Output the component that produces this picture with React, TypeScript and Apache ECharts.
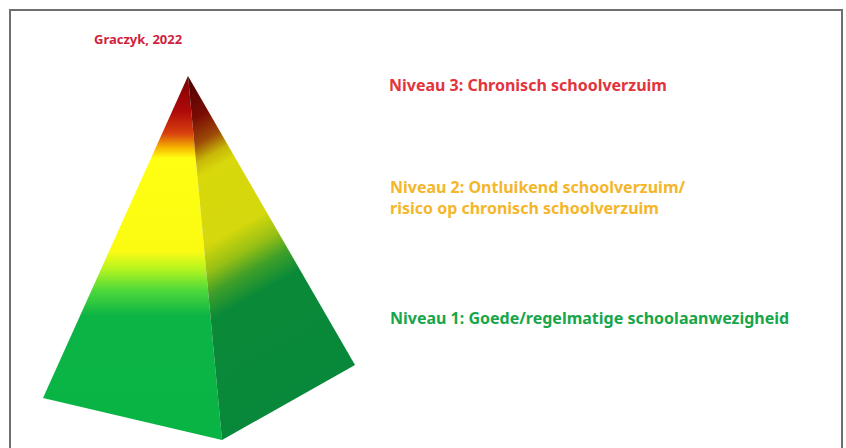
import React, { useEffect, useRef } from "react";
import * as echarts from "echarts";

// Pyramid geometry (diagram vertices in picture units)
const apex = [188, 76];
const baseLeft = [43, 398];
const baseFront = [222, 440];
const baseRight = [355, 365];

// Colour bands of the left (lit) face, from apex (0) to base (1)
const leftStops = [0, 0.1, 0.16, 0.2, 0.23, 0.49, 0.54, 0.6, 0.67, 1];
const leftColors = ["#7a0000", "#b00a0a", "#d8400e", "#f4b400", "#ffff12", "#fbfb12", "#b4f420", "#4cd83a", "#0cb446", "#08b444"];

// Colour bands of the right (shaded) face
const rightStops = [0, 0.12, 0.19, 0.24, 0.28, 0.47, 0.54, 0.6, 0.67, 1];
const rightColors = ["#4a0000", "#7a0c04", "#9c4a08", "#c8b808", "#d8d80c", "#d4d80c", "#98c014", "#40a028", "#0a8a38", "#07883a"];

const citation = "Graczyk, 2022";
const levelLabels = [
  "Niveau 3: Chronisch schoolverzuim",
  "Niveau 2: Ontluikend schoolverzuim/\nrisico op chronisch schoolverzuim",
  "Niveau 1: Goede/regelmatige schoolaanwezigheid",
];
const levelColors = ["#e2343c", "#f4b62a", "#17a64a"];

export default function App() {
  const ref = useRef<HTMLDivElement>(null);
  useEffect(() => {
    if (!ref.current) return;
    const chart = echarts.init(ref.current, undefined, { renderer: "svg" });
    const faces = [
      { name: "left", pts: [apex, baseLeft, baseFront] },
      { name: "right", pts: [apex, baseFront, baseRight] },
    ];
    const mkStops = (s: number[], c: string[]) => s.map((o, i) => ({ offset: o, color: c[i] }));
    chart.setOption({
      animation: false,
      backgroundColor: "#ffffff",
      grid: { left: 0, right: 0, top: 0, bottom: 0 },
      xAxis: { type: "value", min: 0, max: 846, show: false },
      yAxis: { type: "value", min: 0, max: 448, inverse: true, show: false },
      series: [
        {
          type: "custom",
          coordinateSystem: "cartesian2d",
          data: faces.map((f, i) => [i]),
          renderItem: (params: any, api: any) => {
            const f = faces[params.dataIndex];
            const pts = f.pts.map((p) => api.coord(p));
            const a = api.coord(apex);
            let grad;
            if (f.name === "left") {
              const b = api.coord([apex[0], baseFront[1] - 6]);
              grad = new echarts.graphic.LinearGradient(a[0], a[1], b[0], b[1], mkStops(leftStops, leftColors), true);
            } else {
              // perpendicular to the right base edge
              const bf = api.coord(baseFront);
              const br = api.coord(baseRight);
              const ex = br[0] - bf[0];
              const ey = br[1] - bf[1];
              let nx = -ey, ny = ex;
              if (ny < 0) { nx = -nx; ny = -ny; }
              const len = Math.hypot(nx, ny);
              nx /= len; ny /= len;
              const d = (bf[0] - a[0]) * nx + (bf[1] - a[1]) * ny;
              grad = new echarts.graphic.LinearGradient(a[0], a[1], a[0] + nx * d, a[1] + ny * d, mkStops(rightStops, rightColors), true);
            }
            return {
              type: "polygon",
              shape: { points: pts },
              style: { fill: grad, stroke: null },
            };
          },
        },
      ],
      graphic: [
        {
          type: "rect",
          shape: { x: 10, y: 10, width: 832, height: 460 },
          style: { fill: "none", stroke: "#6e6e6e", lineWidth: 2 },
          silent: true,
        },
        {
          type: "text",
          x: 94,
          y: 39,
          style: {
            text: citation,
            fill: "#d01e3e",
            font: "bold 13px 'Noto Sans'",
            verticalAlign: "middle",
          },
        },
        {
          type: "text",
          x: 389,
          y: 85,
          style: { text: levelLabels[0], fill: levelColors[0], font: "bold 16px 'Noto Sans'", verticalAlign: "middle" },
        },
        {
          type: "text",
          x: 390,
          y: 197.5,
          style: { text: levelLabels[1], fill: levelColors[1], font: "bold 16px 'Noto Sans'", lineHeight: 21, verticalAlign: "middle" },
        },
        {
          type: "text",
          x: 390,
          y: 318,
          style: { text: levelLabels[2], fill: levelColors[2], font: "bold 16px 'Noto Sans'", verticalAlign: "middle" },
        },
      ],
    });
    return () => chart.dispose();
  }, []);
  return <div ref={ref} style={{ position: "absolute", left: 0, top: 0, width: 846, height: 448 }} />;
}
